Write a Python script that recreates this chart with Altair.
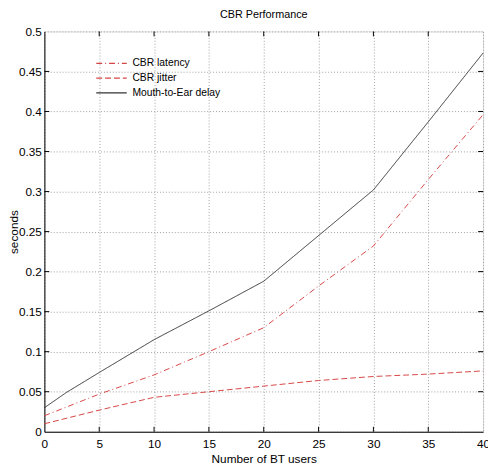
import altair as alt
import pandas as pd

series_names = ["CBR latency", "CBR jitter", "Mouth-to-Ear delay"]

latency_x = [0, 5, 10, 15, 20, 25, 30, 35, 40]
latency_y = [0.020, 0.047, 0.071, 0.100, 0.130, 0.182, 0.232, 0.315, 0.396]

jitter_x = [0, 5, 10, 15, 20, 25, 30, 35, 40]
jitter_y = [0.010, 0.027, 0.043, 0.050, 0.057, 0.064, 0.069, 0.072, 0.076]

m2e_x = [0, 2, 5, 10, 15, 20, 25, 30, 35, 40]
m2e_y = [0.030, 0.049, 0.074, 0.115, 0.151, 0.188, 0.245, 0.302, 0.387, 0.473]

x_ticks = [0, 5, 10, 15, 20, 25, 30, 35, 40]
y_ticks = [0, 0.05, 0.1, 0.15, 0.2, 0.25, 0.3, 0.35, 0.4, 0.45, 0.5]

rows = []
for name, xs, ys in [(series_names[0], latency_x, latency_y),
                     (series_names[1], jitter_x, jitter_y),
                     (series_names[2], m2e_x, m2e_y)]:
    for i, (a, b) in enumerate(zip(xs, ys)):
        rows.append({"series": name, "users": a, "sec": b, "order": i})
df = pd.DataFrame(rows)

W, H = 446, 407
FONT = "Liberation Sans"
XMAX, YMAX = 40, 0.5
tick_len_x = 5 * XMAX / W
tick_len_y = 5 * YMAX / H

xscale = alt.Scale(domain=[0, XMAX], nice=False, zero=False)
yscale = alt.Scale(domain=[0, YMAX], nice=False, zero=False)

xaxis = alt.Axis(values=x_ticks, title="Number of BT users", grid=True,
                 gridDash=[1, 2], gridColor="#a0a0a0", gridWidth=1,
                 tickSize=0, labelPadding=7, labelFontSize=12, labelFont=FONT,
                 labelColor="#000", titleFont=FONT, titleFontSize=12,
                 titleFontWeight="normal", titleColor="#000", titlePadding=4,
                 domainColor="#000", format="d", labelFlush=False)
yaxis = alt.Axis(values=y_ticks, title="seconds", grid=True,
                 gridDash=[1, 2], gridColor="#a0a0a0", gridWidth=1,
                 tickSize=0, labelPadding=3, labelFontSize=12, labelFont=FONT,
                 labelColor="#000", titleFont=FONT, titleFontSize=12,
                 titleFontWeight="normal", titleColor="#000", titlePadding=-2,
                 domainColor="#000", labelFlush=False,
                 labelExpr="datum.value == 0 ? '0' : format(datum.value, '.2~f')")

colors = ["#d64545", "#d64545", "#333333"]
dashes = [[6, 3, 1, 3], [6, 3], [1, 0]]

SYM = 240  # symbol size; path spans 2*sqrt(SYM) px
legend = alt.Legend(title=None, orient="none", legendX=52, legendY=24,
                    symbolType="M-1,0H3", symbolSize=SYM,
                    symbolStrokeWidth=1.2, labelFont=FONT,
                    labelFontSize=10.5, labelColor="#000",
                    rowPadding=1, labelOffset=20.5, padding=0)

lines = alt.Chart(df).mark_line(strokeWidth=1).encode(
    x=alt.X("users:Q", scale=xscale, axis=xaxis),
    y=alt.Y("sec:Q", scale=yscale, axis=yaxis),
    order="order:Q",
    color=alt.Color("series:N", scale=alt.Scale(domain=series_names, range=colors),
                    legend=legend),
    strokeDash=alt.StrokeDash("series:N", scale=alt.Scale(domain=series_names, range=dashes),
                              legend=legend),
)

xt = pd.DataFrame({"v": x_ticks[1:-1]})
yt = pd.DataFrame({"v": y_ticks[1:-1]})

tick_style = dict(color="#000", strokeWidth=1)
xb = alt.Chart(xt).mark_rule(**tick_style).encode(
    x=alt.X("v:Q", scale=xscale), y=alt.datum(0), y2=alt.datum(tick_len_y))
xtp = alt.Chart(xt).mark_rule(**tick_style).encode(
    x=alt.X("v:Q", scale=xscale), y=alt.datum(YMAX), y2=alt.datum(YMAX - tick_len_y))
yl = alt.Chart(yt).mark_rule(**tick_style).encode(
    y=alt.Y("v:Q", scale=yscale), x=alt.datum(0), x2=alt.datum(tick_len_x))
yr = alt.Chart(yt).mark_rule(**tick_style).encode(
    y=alt.Y("v:Q", scale=yscale), x=alt.datum(XMAX), x2=alt.datum(XMAX - tick_len_x))

chart = alt.layer(lines, xb, xtp, yl, yr).properties(
    width=W, height=H,
    title=alt.Title("CBR Performance", font=FONT, fontSize=11, fontWeight="normal",
                    color="#000", offset=6),
    autosize=alt.AutoSizeParams(type="none"),
    padding={"left": 37, "top": 20, "right": 5, "bottom": 30},
).configure_view(stroke="#000", strokeWidth=1).configure(background="white")

chart.save("out.html", embed_options={"renderer": "svg", "actions": False})
